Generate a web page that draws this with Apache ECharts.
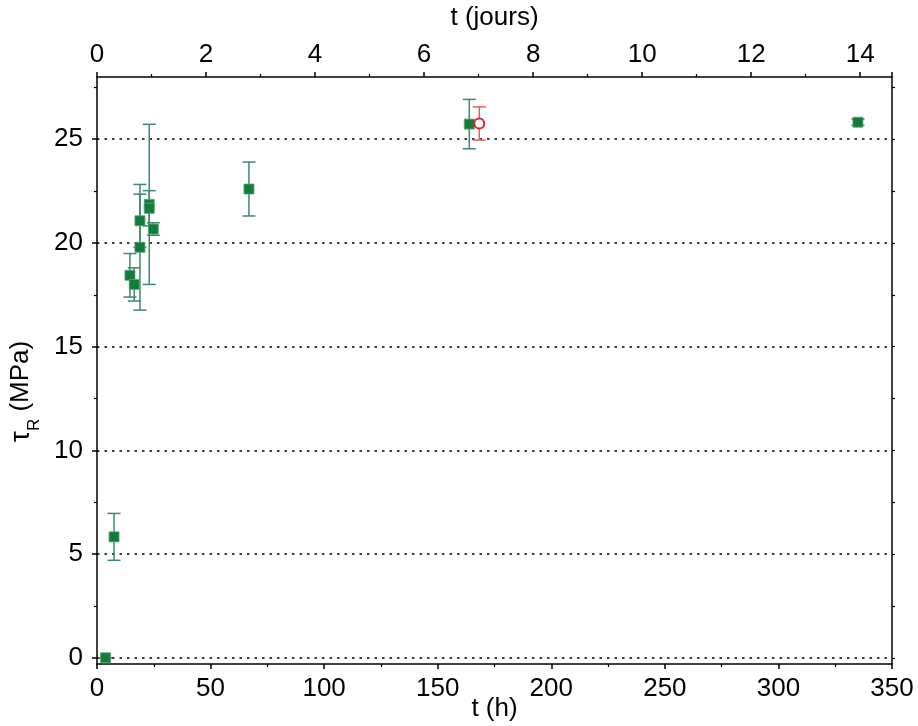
<!DOCTYPE html>
<html>
<head>
<meta charset="utf-8">
<script src="https://cdn.jsdelivr.net/npm/echarts@6/dist/echarts.min.js"></script>
<style>
  html, body { margin: 0; padding: 0; background: #fff; }
  #chart { width: 918px; height: 726px; }
</style>
</head>
<body>
<div id="chart"></div>
<script>
// données
const timeGreen = [3.8, 7.5, 14.5, 16.4, 18.9, 18.9, 23.0, 23.0, 24.8, 66.9, 163.9, 335]
const tauGreen = [0, 5.83, 18.44, 18.0, 21.07, 19.79, 21.86, 21.67, 20.67, 22.6, 25.73, 25.82]
const errGreen = [0, 1.13, 1.05, 0.8, 1.28, 3.03, 3.86, 0.85, 0.3, 1.3, 1.19, 0.15]

const timeRed = [168.3]
const tauRed = [25.76]
const errRed = [0.8]

const yMajorTicks = [0, 5, 10, 15, 20, 25]
const yMinorTicks = [2.5, 7.5, 12.5, 17.5, 22.5, 27.5]

const font = 'Liberation Sans, Arial, sans-serif'
const axisColor = '#000'

const chart = echarts.init(document.getElementById('chart'))

const toPoints = (t, v, e) => t.map((x, i) => [x, v[i], e[i]])

// barres d'erreur verticales avec chapeaux
const errorBar = (color) => (params, api) => {
  const x = api.value(0)
  const y = api.value(1)
  const e = api.value(2)
  const hi = api.coord([x, y + e])
  const lo = api.coord([x, y - e])
  const w = 6.5
  const style = { stroke: color, lineWidth: 1.5 }
  return {
    type: 'group',
    children: [
      { type: 'line', shape: { x1: hi[0], y1: hi[1], x2: lo[0], y2: lo[1] }, style },
      { type: 'line', shape: { x1: hi[0] - w, y1: hi[1], x2: hi[0] + w, y2: hi[1] }, style },
      { type: 'line', shape: { x1: lo[0] - w, y1: lo[1], x2: lo[0] + w, y2: lo[1] }, style }
    ]
  }
}

const labelStyle = { color: '#000', fontFamily: font, fontSize: 26 }

const option = {
  animation: false,
  backgroundColor: '#fff',
  grid: { left: 97, right: 26, top: 77, bottom: 62, outerBoundsMode: 'none', containLabel: false },
  xAxis: [
    {
      type: 'value',
      position: 'bottom',
      min: 0,
      max: 350,
      interval: 50,
      name: 't (h)',
      nameLocation: 'middle',
      nameGap: 32,
      nameMoveOverlap: false,
      nameTextStyle: { ...labelStyle },
      axisLine: { onZero: false, lineStyle: { color: axisColor, width: 1.5 } },
      axisTick: { inside: false, length: 5, lineStyle: { color: axisColor, width: 1.5 } },
      minorTick: { show: true, splitNumber: 2, length: 3, lineStyle: { color: axisColor, width: 1.2 } },
      axisLabel: { ...labelStyle, margin: 12 },
      splitLine: { show: false }
    },
    {
      type: 'value',
      position: 'top',
      min: 0,
      max: 350 / 24,
      interval: 2,
      name: 't (jours)',
      nameLocation: 'middle',
      nameGap: 46,
      nameTextStyle: { ...labelStyle },
      axisLine: { onZero: false, lineStyle: { color: axisColor, width: 1.5 } },
      axisTick: { inside: false, length: 5, lineStyle: { color: axisColor, width: 1.5 } },
      minorTick: { show: true, splitNumber: 2, length: 3, lineStyle: { color: axisColor, width: 1.2 } },
      axisLabel: { ...labelStyle, margin: 9 },
      splitLine: { show: false }
    }
  ],
  yAxis: [
    {
      type: 'value',
      position: 'left',
      min: -0.3,
      max: 28,
      name: '{t|τ}{s|R} (MPa)',
      nameLocation: 'middle',
      nameGap: 54,
      nameRotate: 90,
      nameTextStyle: {
        ...labelStyle,
        padding: [0, 42, 0, 0],
        rich: {
          t: { fontFamily: font, fontSize: 28, color: '#000' },
          s: { fontFamily: font, fontSize: 17, color: '#000', verticalAlign: 'bottom', padding: [0, 0, -8, 0] }
        }
      },
      axisLine: { onZero: false, lineStyle: { color: axisColor, width: 1.5 } },
      axisTick: { inside: false, length: 5, customValues: yMajorTicks, lineStyle: { color: axisColor, width: 1.5 } },
      axisLabel: { ...labelStyle, margin: 14, customValues: yMajorTicks },
      splitLine: { show: true, lineStyle: { color: '#000', width: 1.5, type: [2.5, 5] } }
    },
    {
      type: 'value',
      position: 'left',
      min: -0.3,
      max: 28,
      axisLine: { show: false },
      axisTick: { inside: false, length: 3, customValues: yMinorTicks, lineStyle: { color: axisColor, width: 1.2 } },
      axisLabel: { show: false },
      splitLine: { show: false }
    },
    {
      type: 'value',
      position: 'right',
      min: -0.3,
      max: 28,
      axisLine: { show: true, onZero: false, lineStyle: { color: axisColor, width: 1.5 } },
      axisTick: { inside: false, length: 3, customValues: yMajorTicks.concat(yMinorTicks), lineStyle: { color: axisColor, width: 1.2 } },
      axisLabel: { show: false },
      splitLine: { show: false }
    }
  ],
  series: [
    {
      type: 'custom',
      xAxisIndex: 0,
      yAxisIndex: 0,
      renderItem: errorBar('#3b8a6b'),
      data: toPoints(timeGreen, tauGreen, errGreen),
      z: 2
    },
    {
      type: 'custom',
      xAxisIndex: 0,
      yAxisIndex: 0,
      renderItem: errorBar('#f05a5a'),
      data: toPoints(timeRed, tauRed, errRed),
      z: 2
    },
    {
      type: 'scatter',
      xAxisIndex: 0,
      yAxisIndex: 0,
      symbol: 'rect',
      symbolSize: 10,
      itemStyle: { color: '#157b3d', borderColor: '#5aa27a', borderWidth: 0.8, opacity: 1 },
      data: timeGreen.map((t, i) => [t, tauGreen[i]]),
      z: 3
    },
    {
      type: 'scatter',
      xAxisIndex: 0,
      yAxisIndex: 0,
      symbol: 'circle',
      symbolSize: 10,
      itemStyle: { color: '#fff', borderColor: '#e8202a', borderWidth: 2, opacity: 1 },
      data: timeRed.map((t, i) => [t, tauRed[i]]),
      z: 3
    }
  ]
}

chart.setOption(option)
</script>
</body>
</html>
